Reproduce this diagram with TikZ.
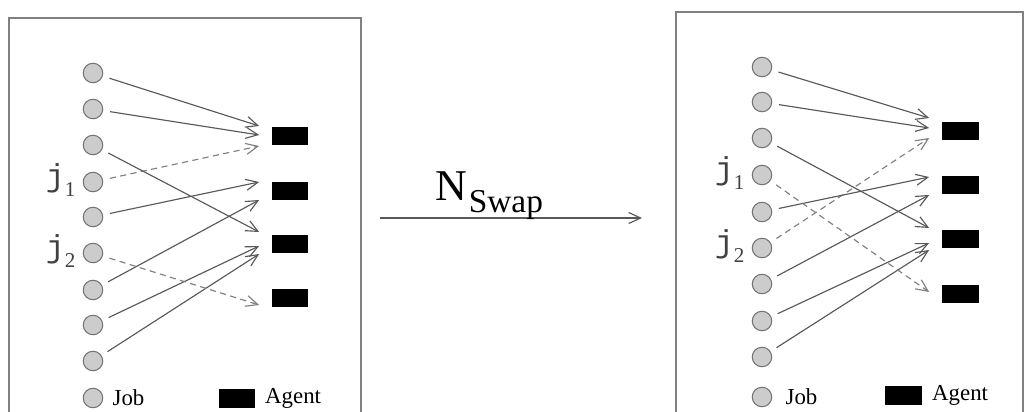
\documentclass[tikz,border=0pt]{standalone}
\usepackage{fontspec}
\setmainfont{Liberation Serif}
\setmonofont{Liberation Mono}
\usetikzlibrary{arrows.meta,positioning}

\begin{document}
\begin{tikzpicture}[x=0.02cm,y=-0.02cm,
  job/.style={circle,draw=black!55,fill=black!20,line width=0.6pt,minimum size=0.39cm,inner sep=0pt},
  agent/.style={rectangle,fill=black,minimum width=0.74cm,minimum height=0.38cm,inner sep=0pt},
  edge/.style={draw=black!65,line width=0.65pt,-{Straight Barb[length=2.4mm,width=2.2mm]},shorten <=0.14cm},
  swapedge/.style={edge,draw=black!50,dash pattern=on 3.5pt off 2.5pt},
  panel/.style={draw=black!50,line width=1pt},
  txt/.style={font=\fontsize{13}{15}\selectfont,inner sep=0pt},
  jlab/.style={font=\fontsize{18}{20}\selectfont\ttfamily,text=black!75,inner sep=0pt,anchor=mid east}]
\useasboundingbox (0,0) rectangle (1025,412);
\fill [white] (0,0) rectangle (1025,412);
% left panel: before the swap
\draw [panel] (9,18) rectangle (361,416);
\node [job] (l1) at (93,73) {};
\node [job] (l2) at (93,109) {};
\node [job] (l3) at (93,145) {};
\node [job] (l4) at (93,182) {};
\node [job] (l5) at (93,217) {};
\node [job] (l6) at (93,253) {};
\node [job] (l7) at (93,290) {};
\node [job] (l8) at (93,325) {};
\node [job] (l9) at (93,361) {};
\node [agent] (la1) at (290,136) {};
\node [agent] (la2) at (290,191) {};
\node [agent] (la3) at (290,244) {};
\node [agent] (la4) at (290,298) {};
\node [jlab] (lj1) at ([xshift=-0.14cm]l4.west) {j\raisebox{-0.2cm}{\rmfamily\fontsize{12}{13}\selectfont 1}};
\node [jlab] (lj2) at ([xshift=-0.14cm]l6.west) {j\raisebox{-0.2cm}{\rmfamily\fontsize{12}{13}\selectfont 2}};
\draw [edge] (l1) -- ([shift={(-12,-10)}]la1.west);
\draw [edge] (l2) -- ([shift={(-12,-1)}]la1.west);
\draw [swapedge] (l4) -- ([shift={(-12,10)}]la1.west);
\draw [edge] (l5) -- ([shift={(-12,-9)}]la2.west);
\draw [edge] (l7) -- ([shift={(-12,9)}]la2.west);
\draw [edge] (l3) -- ([shift={(-12,-12)}]la3.west);
\draw [edge] (l8) -- ([shift={(-12,2)}]la3.west);
\draw [edge] (l9) -- ([shift={(-12,10)}]la3.west);
\draw [swapedge] (l6) -- ([shift={(-12,7)}]la4.west);
\node [job] (lk) at (93,398) {};
\node [txt,right=0.18cm of lk] (lkjob) {Job};
\node [agent] (lka) at (237,398) {};
\node [txt,right=0.18cm of lka] (lkagent) {Agent};
% the swap move
\coordinate (sw0) at (380,218);
\coordinate (sw1) at (642,218);
\draw [edge,shorten <=0pt] (sw0) -- (sw1);
\node [inner sep=0pt,anchor=base west] (nswap) at (435,200)
  {\fontsize{25}{27}\selectfont N\kern1pt\raisebox{-0.26cm}{\fontsize{19}{21}\selectfont Swap}};
% right panel: after the swap
\draw [panel] (676,12) rectangle (1023,416);
\node [job] (r1) at (762,67) {};
\node [job] (r2) at (762,102) {};
\node [job] (r3) at (762,138) {};
\node [job] (r4) at (762,175) {};
\node [job] (r5) at (762,212) {};
\node [job] (r6) at (762,248) {};
\node [job] (r7) at (762,284) {};
\node [job] (r8) at (762,321) {};
\node [job] (r9) at (762,357) {};
\node [agent] (ra1) at (960,131) {};
\node [agent] (ra2) at (960,185) {};
\node [agent] (ra3) at (960,239) {};
\node [agent] (ra4) at (960,294) {};
\node [jlab] (rj1) at ([xshift=-0.14cm]r4.west) {j\raisebox{-0.2cm}{\rmfamily\fontsize{12}{13}\selectfont 1}};
\node [jlab] (rj2) at ([xshift=-0.14cm]r6.west) {j\raisebox{-0.2cm}{\rmfamily\fontsize{12}{13}\selectfont 2}};
\draw [edge] (r1) -- ([shift={(-12,-13)}]ra1.west);
\draw [edge] (r2) -- ([shift={(-12,-3)}]ra1.west);
\draw [swapedge] (r6) -- ([shift={(-12,7)}]ra1.west);
\draw [edge] (r5) -- ([shift={(-12,-8)}]ra2.west);
\draw [edge] (r7) -- ([shift={(-12,10)}]ra2.west);
\draw [edge] (r3) -- ([shift={(-12,-11)}]ra3.west);
\draw [edge] (r8) -- ([shift={(-12,4)}]ra3.west);
\draw [edge] (r9) -- ([shift={(-12,11)}]ra3.west);
\draw [swapedge] (r4) -- ([shift={(-12,-2)}]ra4.west);
\node [job] (rk) at (762,397) {};
\node [txt,right=0.26cm of rk] (rkjob) {Job};
\node [agent] (rka) at (903,395) {};
\node [txt,right=0.2cm of rka] (rkagent) {Agent};
\end{tikzpicture}
\end{document}
